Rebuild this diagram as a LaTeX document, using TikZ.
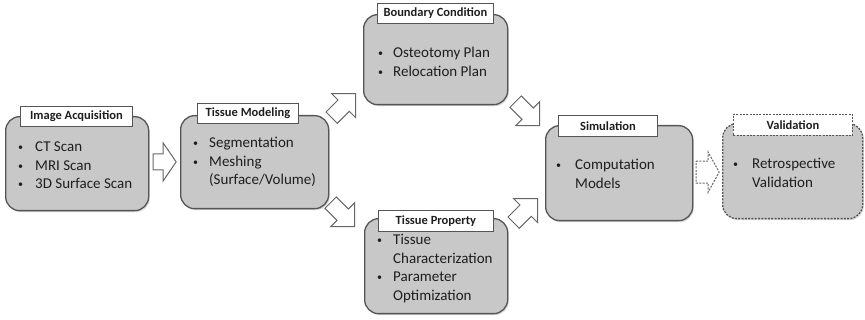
\documentclass[tikz,border=0pt]{standalone}
\usepackage{fontspec}
\setmainfont{Carlito}
\usetikzlibrary{calc,shadows}
\definecolor{boxfill}{RGB}{200,200,200}
\definecolor{boxline}{RGB}{85,85,85}
\definecolor{txt}{RGB}{30,30,30}
\newcommand\bul[1]{\makebox[#1][l]{\fontsize{10}{10}\selectfont\raisebox{1pt}{•}}}
\tikzset{
  mainbox/.style={draw=boxline, line width=1.3pt, fill=boxfill, rounded corners=14pt,
    drop shadow={opacity=0.3, shadow xshift=1.2pt, shadow yshift=-1.5pt},
    inner sep=0pt, anchor=north west},
  dashbox/.style={mainbox, dash pattern=on 2pt off 1.3pt},
  labelbox/.style={draw=boxline, line width=0.9pt, fill=white, text=txt,
    font=\fontsize{12.5}{14}\selectfont\bfseries, inner sep=0pt, anchor=north west},
  bodytext/.style={anchor=base west, inner sep=0pt, text=txt, font=\fontsize{15}{18.5}\selectfont},
  blockarrow/.style={draw=boxline!90, line width=1pt, fill=white, line join=miter},
}
\begin{document}
\begin{tikzpicture}[x=1pt, y=-1pt]
\useasboundingbox (0,0) rectangle (865,320);

% main boxes
\node[mainbox, minimum width=143pt, minimum height=94pt] (b1) at (5,116) {};
\node[mainbox, minimum width=148pt, minimum height=93pt] (b2) at (180,115) {};
\node[mainbox, minimum width=144pt, minimum height=90pt] (b3) at (363,14) {};
\node[mainbox, minimum width=143pt, minimum height=95pt] (b4) at (364,218) {};
\node[mainbox, minimum width=147pt, minimum height=95pt] (b5) at (545,125) {};
\node[dashbox, minimum width=140pt, minimum height=95pt] (b6) at (722,123) {};

% label boxes
\node[labelbox, minimum width=112pt, minimum height=20pt] (l1) at (20,106) {Image Acquisition};
\node[labelbox, minimum width=101pt, minimum height=20pt] (l2) at (197,103) {Tissue Modeling};
\node[labelbox, minimum width=116pt, minimum height=20pt] (l3) at (377,3) {Boundary Condition};
\node[labelbox, minimum width=115pt, minimum height=21pt] (l4) at (378,210) {Tissue Property};
\node[labelbox, minimum width=99pt, minimum height=21pt] (l5) at (558,115) {Simulation};
\node[labelbox, minimum width=119pt, minimum height=21pt, dash pattern=on 2pt off 1.3pt] (l6) at (733,114) {Validation};

% texts
\node[bodytext] (t1) at (18,152) {\begin{tabular}[t]{@{}l@{}l@{}}
\bul{17pt} & CT Scan\\ \bul{17pt} & MRI Scan\\ \bul{17pt} & 3D Surface Scan\end{tabular}};
\node[bodytext] (t2) at (193,148) {\begin{tabular}[t]{@{}l@{}l@{}}
\bul{16pt} & Segmentation\\ \bul{16pt} & Meshing\\ & (Surface/Volume)\end{tabular}};
\node[bodytext] (t3) at (378,58) {\begin{tabular}[t]{@{}l@{}l@{}}
\bul{15pt} & Osteotomy Plan\\ \bul{15pt} & Relocation Plan\end{tabular}};
\node[bodytext] (t4) at (377,245) {\begin{tabular}[t]{@{}l@{}l@{}}
\bul{16pt} & Tissue\\ & Characterization\\ \bul{16pt} & Parameter\\ & Optimization\end{tabular}};
\node[bodytext] (t5) at (556,170) {\begin{tabular}[t]{@{}l@{}l@{}}
\bul{19pt} & Computation\\ & Models\end{tabular}};
\node[bodytext] (t6) at (733,169) {\begin{tabular}[t]{@{}l@{}l@{}}
\bul{19pt} & Retrospective\\ & Validation\end{tabular}};

% arrow positions
\coordinate (a1) at ($(b1.east)!0.5!(b2.west)+(0,-1)$);
\coordinate (a2) at ($(b2.north east)!0.5!(b3.south west)+(-2.5,-4.5)$);
\coordinate (a3) at ($(b2.south east)!0.5!(b4.north west)+(-4,1)$);
\coordinate (a4) at ($(b3.south east)!0.5!(b5.north west)+(1,-1.5)$);
\coordinate (a5) at ($(b4.north east)!0.5!(b5.south west)+(-1,-9)$);
\coordinate (a6) at ($(b5.east)!0.5!(b6.west)$);

% horizontal block arrows
\draw[blockarrow, shift={(a1)}] (-11.5,-8) -- (-1.5,-8) -- (-1.5,-19) -- (11.5,0) -- (-1.5,19) -- (-1.5,8) -- (-11.5,8) -- cycle;
\draw[blockarrow, dash pattern=on 2pt off 1.3pt, shift={(a6)}] (-11.5,-11) -- (0.5,-11) -- (0.5,-20) -- (11.5,0) -- (0.5,20) -- (0.5,11) -- (-11.5,11) -- cycle;

% diagonal block arrows
\foreach \p/\r in {a2/45, a3/-45, a4/-45, a5/45}{
  \draw[blockarrow, shift={(\p)}, rotate=\r] (-17,-8) -- (0,-8) -- (0,-17) -- (17,0) -- (0,17) -- (0,8) -- (-17,8) -- cycle;
}
\end{tikzpicture}
\end{document}
